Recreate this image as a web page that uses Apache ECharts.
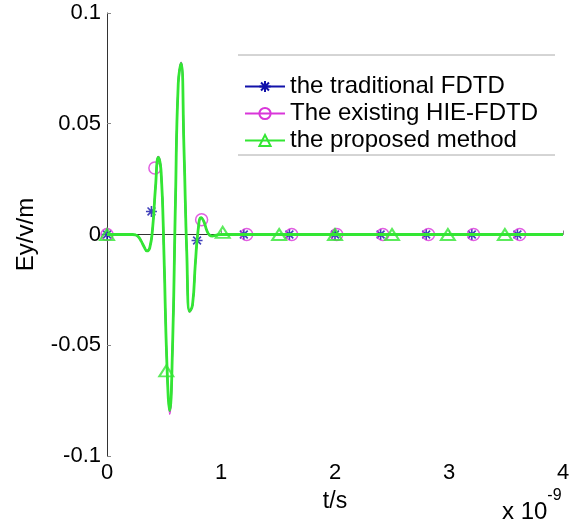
<!DOCTYPE html>
<html>
<head>
<meta charset="utf-8">
<script src="https://cdn.jsdelivr.net/npm/echarts@6/dist/echarts.min.js"></script>
<style>
  html, body { margin: 0; padding: 0; background: #fff; }
  #chart { width: 575px; height: 523px; }
</style>
</head>
<body>
<div id="chart"></div>
<script>
// time in units of 1e-9 s (axis shows "x 10^-9")
const tNs = [0, 0.1, 0.2, 0.225, 0.25, 0.275, 0.3, 0.325, 0.35, 0.375, 0.4, 0.425, 0.45, 0.475,
  0.5, 0.525, 0.55, 0.575, 0.6, 0.625, 0.65, 0.675, 0.7, 0.725, 0.75, 0.775, 0.8, 0.825,
  0.85, 0.875, 0.9, 0.925, 0.95, 1.0, 1.5, 2, 2.5, 3, 3.5, 4];

const eyFdtd = [0, 0, 0, 0, -0.0002, -0.0010, -0.0030, -0.0055, -0.0074, -0.0060, 0.0028, 0.0210, 0.0350, 0.0280,
  -0.0094, -0.0578, -0.0800, -0.0508, 0.0137, 0.0684, 0.0775, 0.0394, -0.0086, -0.0348, -0.0320, -0.0132, 0.0023, 0.0076,
  0.0058, 0.0019, -0.0003, -0.0007, -0.0004, 0, 0, 0, 0, 0, 0, 0];

const eyHie = [0, 0, 0, 0, -0.0002, -0.0010, -0.0030, -0.0055, -0.0074, -0.0060, 0.0028, 0.0212, 0.0352, 0.0281,
  -0.0096, -0.0585, -0.0812, -0.0512, 0.0137, 0.0688, 0.0778, 0.0394, -0.0088, -0.0350, -0.0320, -0.0132, 0.0023, 0.0076,
  0.0058, 0.0019, -0.0003, -0.0007, -0.0004, 0, 0, 0, 0, 0, 0, 0];

const eyProposed = [0, 0, 0, 0, -0.0002, -0.0010, -0.0030, -0.0055, -0.0074, -0.0060, 0.0028, 0.0210, 0.0348, 0.0279,
  -0.0094, -0.0576, -0.0795, -0.0506, 0.0137, 0.0682, 0.0772, 0.0393, -0.0086, -0.0347, -0.0318, -0.0131, 0.0023, 0.0076,
  0.0058, 0.0019, -0.0003, -0.0007, -0.0004, 0, 0, 0, 0, 0, 0, 0];

// marker positions
const starT = [0, 0.39, 0.79, 1.2, 1.6, 2.0, 2.4, 2.8, 3.2, 3.6];
const starEy = [0, 0.0104, -0.0027, 0, 0, 0, 0, 0, 0, 0];
const circleT = [0, 0.42, 0.83, 1.225, 1.62, 2.015, 2.42, 2.82, 3.215, 3.62];
const circleEy = [0, 0.0300, 0.0067, 0, 0, 0, 0, 0, 0, 0];
const triT = [0, 0.52, 1.015, 1.51, 2.0, 2.5, 2.99, 3.49];
const triEy = [0, -0.0616, 0.001, 0, 0, 0, 0, 0];

const yTicks = [-0.1, -0.05, 0, 0.05, 0.1];

const names = ["the traditional FDTD", "The existing HIE-FDTD", "the proposed method"];
const colors = ["#1212aa", "#d936d9", "#33e633"];

const starPath = "path://M10,0L10,20M0,10L20,10M2.9,2.9L17.1,17.1M2.9,17.1L17.1,2.9";

const zip = (xs, ys) => xs.map((x, i) => [x, ys[i]]);

var myChart = echarts.init(document.getElementById("chart"));
const font = "Liberation Sans, Arial, sans-serif";

var option = {
  animation: false,
  backgroundColor: "#fff",
  grid: { left: 107, right: 12, top: 13, bottom: 67, containLabel: false },
  legend: {
    data: names,
    orient: "vertical",
    left: 239,
    top: 69,
    padding: 5,
    itemWidth: 40,
    itemHeight: 14,
    itemGap: 2,
    textStyle: { fontSize: 24, color: "#000", fontFamily: font, lineHeight: 25 },
  },
  xAxis: {
    type: "value",
    min: 0,
    max: 4,
    interval: 1,
    name: "t/s",
    nameLocation: "middle",
    nameGap: 34,
    nameTextStyle: { fontSize: 23, color: "#000", fontFamily: font },
    axisLine: { lineStyle: { color: "#333", width: 1 } },
    axisTick: { inside: true, length: 4, lineStyle: { color: "#888" } },
    axisLabel: { fontSize: 22, color: "#000", fontFamily: font, margin: 6 },
    splitLine: { show: false },
  },
  yAxis: {
    type: "value",
    min: yTicks[0],
    max: yTicks[yTicks.length - 1],
    interval: 0.05,
    name: "Ey/v/m",
    nameLocation: "middle",
    nameGap: 69,
    nameTextStyle: { fontSize: 24, color: "#000", fontFamily: font },
    axisLine: { lineStyle: { color: "#333", width: 1 } },
    axisTick: { inside: true, length: 4, lineStyle: { color: "#888" } },
    axisLabel: { fontSize: 22, color: "#000", fontFamily: font, margin: 6 },
    splitLine: { show: false },
  },
  graphic: [
    { type: "line", shape: { x1: 238, y1: 55, x2: 555, y2: 55 }, style: { stroke: "#aaa", lineWidth: 1 } },
    { type: "line", shape: { x1: 238, y1: 155, x2: 555, y2: 155 }, style: { stroke: "#aaa", lineWidth: 1 } },
    {
      type: "text",
      left: 502,
      top: 488,
      style: {
        text: "{a|x 10}{b|-9}",
        rich: {
          a: { fontSize: 24, fontFamily: font, fill: "#000", padding: [12, 0, 0, 0] },
          b: { fontSize: 16, fontFamily: font, fill: "#000", verticalAlign: "top", padding: [0, 0, 10, 0] },
        },
      },
    },
  ],
  series: [
    {
      name: names[0], type: "line", data: zip(tNs, eyFdtd), smooth: 0.5,
      showSymbol: false, symbol: starPath, symbolKeepAspect: true,
      lineStyle: { color: colors[0], width: 1.5 },
      itemStyle: { color: "rgba(0,0,0,0)", borderColor: colors[0], borderWidth: 1.5 },
      z: 2,
    },
    {
      name: "fdtd markers", type: "scatter", data: zip(starT, starEy),
      symbol: starPath, symbolSize: 11, symbolKeepAspect: true,
      itemStyle: { color: "rgba(0,0,0,0)", borderColor: colors[0], borderWidth: 1.6 },
      z: 3,
    },
    {
      name: names[1], type: "line", data: zip(tNs, eyHie), smooth: 0.5,
      showSymbol: false, symbol: "circle",
      lineStyle: { color: colors[1], width: 1.5 },
      itemStyle: { color: "rgba(0,0,0,0)", borderColor: colors[1], borderWidth: 1.5 },
      z: 4,
    },
    {
      name: "hie markers", type: "scatter", data: zip(circleT, circleEy),
      symbol: "circle", symbolSize: 12,
      itemStyle: { color: "rgba(0,0,0,0)", borderColor: colors[1], borderWidth: 1.5 },
      z: 5,
    },
    {
      name: names[2], type: "line", data: zip(tNs, eyProposed), smooth: 0.5,
      showSymbol: false, symbol: "triangle",
      lineStyle: { color: colors[2], width: 2.8 },
      itemStyle: { color: "rgba(0,0,0,0)", borderColor: colors[2], borderWidth: 1.8 },
      z: 6,
    },
    {
      name: "proposed markers", type: "scatter", data: zip(triT, triEy),
      symbol: "triangle", symbolSize: [14, 11],
      itemStyle: { color: "rgba(0,0,0,0)", borderColor: colors[2], borderWidth: 2 },
      z: 7,
    },
  ],
};

myChart.setOption(option);
window.onresize = () => {
  myChart.resize();
};
</script>
</body>
</html>
